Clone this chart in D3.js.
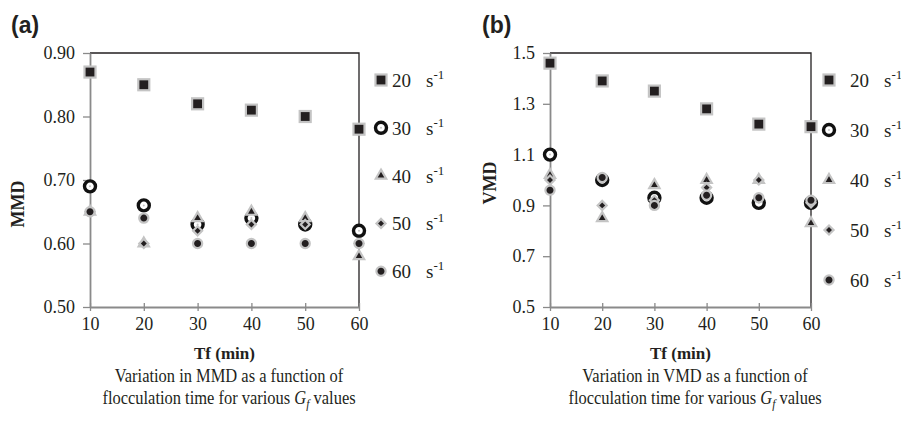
<!DOCTYPE html>
<html>
<head>
<meta charset="utf-8">
<script src="https://cdn.jsdelivr.net/npm/d3@7"></script>
<style>
  body { margin: 0; background: #fff; }
  svg { display: block; }
  text { fill: #231f20; }
</style>
</head>
<body>
<div id="chart"></div>
<script>
// flocculation time (min)
var tf = [10, 20, 30, 40, 50, 60];
var gfValues = ["20", "30", "40", "50", "60"];

// (a) MMD for each Gf
var mmd20 = [0.87, 0.85, 0.82, 0.81, 0.80, 0.78];
var mmd30 = [0.69, 0.66, 0.63, 0.64, 0.63, 0.62];
var mmd40 = [0.65, 0.60, 0.64, 0.65, 0.64, 0.58];
var mmd50 = [0.65, 0.60, 0.62, 0.63, 0.63, 0.60];
var mmd60 = [0.65, 0.64, 0.60, 0.60, 0.60, 0.60];

// (b) VMD for each Gf
var vmd20 = [1.46, 1.39, 1.35, 1.28, 1.22, 1.21];
var vmd30 = [1.10, 1.00, 0.93, 0.93, 0.91, 0.91];
var vmd40 = [1.02, 0.85, 0.98, 1.00, 1.00, 0.83];
var vmd50 = [1.00, 0.90, 0.92, 0.97, 1.00, 0.91];
var vmd60 = [0.96, 1.01, 0.90, 0.94, 0.93, 0.92];

var mmdTicks = [0.50, 0.60, 0.70, 0.80, 0.90];
var vmdTicks = [0.5, 0.7, 0.9, 1.1, 1.3, 1.5];

var svg = d3.select("#chart")
  .append("svg")
    .attr("width", 901)
    .attr("height", 426);

var grey = "#c4c4c4";

// marker painters, one per Gf
function drawMarker(g, kind) {
  if (kind == 0) {
    g.append("rect").attr("x", -5.5).attr("y", -5.5).attr("width", 11).attr("height", 11)
      .attr("fill", "#231f20").attr("stroke", grey).attr("stroke-width", 2.2);
  } else if (kind == 1) {
    g.append("circle").attr("r", 5.5)
      .attr("fill", "#fff").attr("stroke", "#111").attr("stroke-width", 3.4);
    g.append("circle").attr("r", 1).attr("fill", grey);
  } else if (kind == 2) {
    g.append("path").attr("d", d3.symbol(d3.symbolTriangle, 46)())
      .attr("fill", "#231f20").attr("stroke", grey).attr("stroke-width", 2.2);
  } else if (kind == 3) {
    g.append("rect").attr("x", -3.2).attr("y", -3.2).attr("width", 6.4).attr("height", 6.4)
      .attr("transform", "rotate(45)")
      .attr("fill", "#231f20").attr("stroke", grey).attr("stroke-width", 2.2);
  } else {
    g.append("circle").attr("r", 4.6)
      .attr("fill", "#231f20").attr("stroke", grey).attr("stroke-width", 2.2);
  }
}

function panel(opt) {
  var g = svg.append("g");

  var x = d3.scaleLinear().domain([10, 60]).range([opt.left, opt.right]);
  var y = d3.scaleLinear().domain(opt.domain).range([opt.bottom, opt.top]);

  // top and right frame
  g.append("path")
    .attr("d", "M" + opt.left + "," + opt.top + "H" + opt.right + "V" + opt.bottom)
    .attr("fill", "none").attr("stroke", "#231f20").attr("stroke-width", 1.3);

  // Y axis
  var ya = g.append("g")
    .attr("transform", "translate(" + opt.left + ",0)")
    .call(d3.axisLeft(y).tickValues(opt.ticks).tickFormat(d3.format(opt.fmt)).tickSize(7).tickSizeOuter(0).tickPadding(8));
  ya.select(".domain").attr("stroke", "#8a8a8a").attr("stroke-width", 1.8);
  ya.selectAll(".tick line").attr("stroke", "#8a8a8a").attr("stroke-width", 1.3);
  ya.selectAll(".tick text").style("font-family", "Liberation Serif, serif").style("font-size", "18px").attr("fill", "#231f20");

  // X axis
  var xa = g.append("g")
    .attr("transform", "translate(0," + opt.bottom + ")")
    .call(d3.axisBottom(x).tickValues(tf).tickSize(4).tickSizeOuter(0).tickPadding(6));
  xa.select(".domain").attr("stroke", "#8a8a8a").attr("stroke-width", 1.8);
  xa.selectAll(".tick line").attr("stroke", "#8a8a8a").attr("stroke-width", 1.3).attr("y1", -4);
  xa.selectAll(".tick text").style("font-family", "Liberation Serif, serif").style("font-size", "18px").attr("fill", "#231f20");

  // axis titles
  g.append("text")
    .attr("x", (opt.left + opt.right) / 2)
    .attr("y", opt.bottom + 52)
    .attr("text-anchor", "middle")
    .style("font-family", "Liberation Serif, serif")
    .style("font-weight", "bold")
    .style("font-size", "17px")
    .text("Tf (min)");

  g.append("text")
    .attr("transform", "translate(" + opt.ytitleX + "," + opt.ytitleY + ") rotate(-90)")
    .attr("text-anchor", "middle")
    .style("font-family", "Liberation Serif, serif")
    .style("font-weight", "bold")
    .style("font-size", "18px")
    .text(opt.ytitle);

  // panel letter
  g.append("text")
    .attr("x", opt.letterX).attr("y", 33)
    .style("font-family", "Liberation Sans, Arial, sans-serif")
    .style("font-weight", "bold")
    .style("font-size", "23px")
    .text(opt.letter);

  // points, series in order so later ones sit on top
  opt.series.forEach(function (vals, k) {
    g.append("g").selectAll("g")
      .data(vals)
      .enter()
      .append("g")
        .attr("transform", function (d, i) { return "translate(" + x(tf[i]) + "," + y(d) + ")"; })
        .each(function () { drawMarker(d3.select(this), k); });
  });

  // legend
  gfValues.forEach(function (v, k) {
    var ly = opt.legTop + k * opt.legStep;
    var m = g.append("g").attr("transform", "translate(" + opt.legX + "," + ly + ")");
    drawMarker(m, k);
    g.append("text")
      .attr("x", opt.legX + opt.numDx).attr("y", ly + 7)
      .style("font-family", "Liberation Serif, serif")
      .style("font-size", "19px")
      .text(v);
    var s = g.append("text")
      .attr("x", opt.legX + opt.sDx).attr("y", ly + 7)
      .style("font-family", "Liberation Serif, serif")
      .style("font-size", "19px");
    s.append("tspan").text("s");
    s.append("tspan").attr("dy", -8).style("font-size", "13px").text("-1");
  });

  // caption, squeezed a little to get the narrow print face
  var cap = g.append("g")
    .attr("transform", "translate(" + opt.captionX + ",0) scale(0.9,1)");
  cap.append("text")
    .attr("x", 0).attr("y", 382)
    .attr("text-anchor", "middle")
    .style("font-family", "Liberation Serif, serif")
    .style("font-size", "18.3px")
    .text("Variation in " + opt.ytitle + " as a function of");
  var c2 = cap.append("text")
    .attr("x", 0).attr("y", 404)
    .attr("text-anchor", "middle")
    .style("font-family", "Liberation Serif, serif")
    .style("font-size", "18.3px");
  c2.append("tspan").text("flocculation time for various ");
  c2.append("tspan").style("font-style", "italic").text("G");
  c2.append("tspan").style("font-style", "italic").style("font-size", "13px").attr("dy", 4).text("f");
  c2.append("tspan").attr("dy", -4).text(" values");
}

panel({
  left: 90, right: 359, top: 53, bottom: 307,
  domain: [0.5, 0.9], ticks: mmdTicks, fmt: ".2f",
  ytitle: "MMD", ytitleX: 24, ytitleY: 204,
  letter: "(a)", letterX: 11,
  series: [mmd20, mmd30, mmd40, mmd50, mmd60],
  legX: 381, legTop: 80, legStep: 47.8, numDx: 11, sDx: 45,
  captionX: 229
});

panel({
  left: 550, right: 811, top: 53, bottom: 307,
  domain: [0.5, 1.5], ticks: vmdTicks, fmt: ".1f",
  ytitle: "VMD", ytitleX: 496, ytitleY: 183,
  letter: "(b)", letterX: 482,
  series: [vmd20, vmd30, vmd40, vmd50, vmd60],
  legX: 829, legTop: 80, legStep: 50, numDx: 21, sDx: 55,
  captionX: 695
});
</script>
</body>
</html>
